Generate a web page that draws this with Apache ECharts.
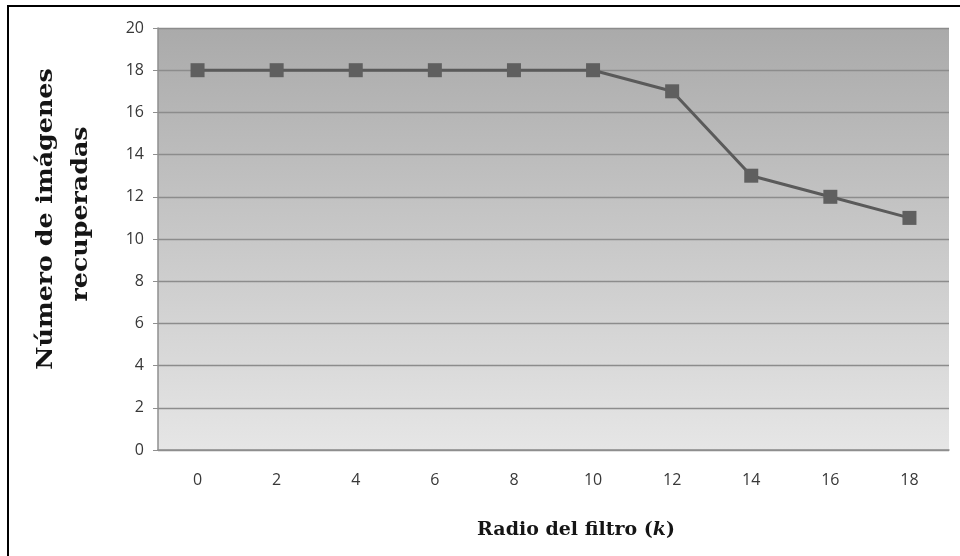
<!DOCTYPE html>
<html>
<head>
<meta charset="utf-8">
<script src="https://cdn.jsdelivr.net/npm/echarts@6/dist/echarts.min.js"></script>
<style>
  html, body { margin: 0; padding: 0; background: #ffffff; }
  #chart { width: 960px; height: 556px; }
</style>
</head>
<body>
<div id="chart"></div>
<script>
// Filter radius (k) values on the horizontal axis
const radii = ['0', '2', '4', '6', '8', '10', '12', '14', '16', '18'];
// Number of retrieved images for each radius
const retrieved = [18, 18, 18, 18, 18, 18, 17, 13, 12, 11];
// Vertical scale
const yMin = 0;
const yMax = 20;
const yStep = 2;

const chart = echarts.init(document.getElementById('chart'), null, { renderer: 'canvas' });

const tickFont = '"Open Sans", "Liberation Sans", sans-serif';
const titleFont = '"DejaVu Serif", serif';

chart.setOption({
  animation: false,
  backgroundColor: '#ffffff',
  grid: {
    left: 158, right: 11, top: 28, bottom: 106,
    show: true,
    borderWidth: 0,
    backgroundColor: {
      type: 'linear', x: 0, y: 0, x2: 0, y2: 1,
      colorStops: [
        { offset: 0, color: '#aaaaaa' },
        { offset: 1, color: '#e6e6e6' }
      ]
    }
  },
  xAxis: {
    type: 'category',
    data: radii,
    boundaryGap: true,
    axisLine: { show: true, lineStyle: { color: '#8f8f8f', width: 1.5 } },
    axisTick: { show: false },
    axisLabel: { color: '#383838', fontSize: 16, fontFamily: tickFont, margin: 22 },
    splitLine: { show: false }
  },
  yAxis: {
    type: 'value',
    min: yMin, max: yMax, interval: yStep,
    axisLine: { show: true, lineStyle: { color: '#8f8f8f', width: 1.5 } },
    axisTick: { show: true, length: 5, inside: false, lineStyle: { color: '#8f8f8f' } },
    axisLabel: { color: '#383838', fontSize: 16, fontFamily: tickFont, margin: 14 },
    splitLine: { show: true, lineStyle: { color: '#8c8c8c', width: 1.3 } }
  },
  series: [{
    type: 'line',
    data: retrieved,
    symbol: 'rect',
    symbolSize: 14,
    lineStyle: { color: '#5a5a5a', width: 3 },
    itemStyle: { color: '#5f5f5f' },
    z: 5
  }],
  graphic: [
    // frame lines along the top and left edges
    { type: 'line', shape: { x1: 7, y1: 6, x2: 960, y2: 6 }, style: { stroke: '#000000', lineWidth: 2 }, silent: true },
    { type: 'line', shape: { x1: 8, y1: 6, x2: 8, y2: 556 }, style: { stroke: '#000000', lineWidth: 2 }, silent: true },
    // vertical axis title, two lines
    {
      type: 'text', x: 46, y: 219, rotation: Math.PI / 2, scaleX: 1.15,
      style: {
        text: 'Número de imágenes', fontFamily: titleFont, fontWeight: 'bold', fontSize: 22,
        fill: '#151515', align: 'center', verticalAlign: 'middle'
      }
    },
    {
      type: 'text', x: 81, y: 214, rotation: Math.PI / 2, scaleX: 1.15,
      style: {
        text: 'recuperadas', fontFamily: titleFont, fontWeight: 'bold', fontSize: 22,
        fill: '#151515', align: 'center', verticalAlign: 'middle'
      }
    },
    // horizontal axis title with italic k
    {
      type: 'text', x: 576, y: 530,
      style: {
        text: 'Radio del filtro ({k|k})',
        fontFamily: titleFont, fontWeight: 'bold', fontSize: 19,
        fill: '#151515', align: 'center', verticalAlign: 'middle',
        rich: {
          k: { fontFamily: titleFont, fontWeight: 'bold', fontStyle: 'italic', fontSize: 19, fill: '#151515' }
        }
      }
    }
  ]
});
</script>
</body>
</html>
